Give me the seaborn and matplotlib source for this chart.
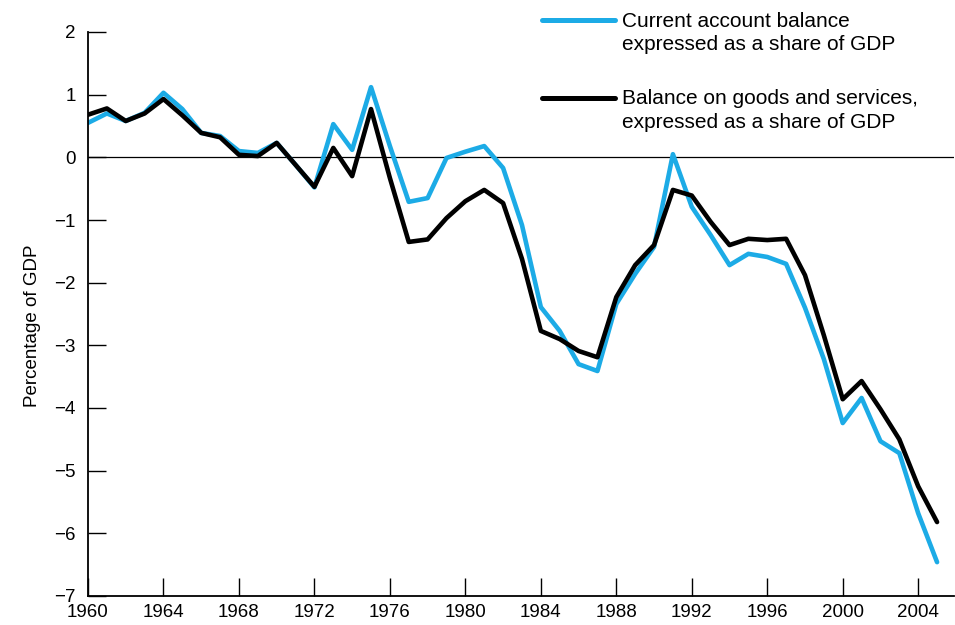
import numpy as np
import pandas as pd
import matplotlib
matplotlib.use("Agg")
import matplotlib.pyplot as plt
import seaborn as sns

# data (percent of GDP)
years = list(range(1960, 2006))
current_account = [0.55, 0.70, 0.58, 0.71, 1.03, 0.77, 0.39, 0.34, 0.10, 0.07,
                   0.23, -0.12, -0.48, 0.53, 0.12, 1.12, 0.18, -0.71, -0.65, -0.01,
                   0.09, 0.18, -0.17, -1.08, -2.39, -2.77, -3.30, -3.41, -2.34, -1.86,
                   -1.43, 0.05, -0.79, -1.24, -1.72, -1.54, -1.59, -1.70, -2.40, -3.22,
                   -4.24, -3.84, -4.53, -4.72, -5.68, -6.46]
goods_services = [0.68, 0.78, 0.58, 0.70, 0.93, 0.67, 0.39, 0.32, 0.04, 0.02,
                  0.23, -0.12, -0.47, 0.15, -0.30, 0.77, -0.33, -1.35, -1.31, -0.97,
                  -0.70, -0.52, -0.73, -1.62, -2.77, -2.90, -3.09, -3.19, -2.23, -1.72,
                  -1.40, -0.52, -0.61, -1.03, -1.40, -1.30, -1.32, -1.30, -1.88, -2.84,
                  -3.86, -3.57, -4.02, -4.50, -5.25, -5.82]
labels = ["Current account balance\nexpressed as a share of GDP",
          "Balance on goods and services,\nexpressed as a share of GDP"]
colors = ["#1CABE6", "#000000"]
yticks = list(range(-7, 3))
xticks = list(range(1960, 2005, 4))

df = pd.DataFrame({"year": years * 2,
                   "value": current_account + goods_services,
                   "series": [labels[0]] * len(years) + [labels[1]] * len(years)})

sns.set_style("ticks")
plt.rcParams["font.family"] = ["Liberation Sans", "DejaVu Sans"]
plt.rcParams["text.color"] = "black"
plt.rcParams["axes.labelcolor"] = "black"
plt.rcParams["xtick.color"] = "black"
plt.rcParams["ytick.color"] = "black"
plt.rcParams["axes.edgecolor"] = "black"

fig = plt.figure(figsize=(9.55, 6.25), dpi=100)
ax = fig.add_axes([88 / 955, 1 - 596 / 625, 1 - 88 / 955 - 0.001, (596 - 32) / 625])

sns.lineplot(data=df, x="year", y="value", hue="series", palette=colors,
             linewidth=3.3, ax=ax, legend=True)
ax.axhline(0, color="black", linewidth=0.9, zorder=1)

ax.set_xlim(1960, 2005.9)
ax.set_ylim(-7, 2)
ax.set_xticks(xticks)
ax.set_yticks(yticks)
ax.set_yticklabels([str(v).replace("-", "\u2212") for v in yticks])
ax.tick_params(direction="in", length=13, width=1, labelsize=13.5, pad=6)
ax.tick_params(axis="y", pad=9)
ax.set_xlabel("")
ax.set_ylabel("Percentage of GDP", fontsize=13.5)
ax.yaxis.set_label_coords(-0.054, 0.48)
sns.despine(ax=ax)
for s in ["left", "bottom"]:
    ax.spines[s].set_linewidth(1.3)

leg = ax.legend(loc="upper left", bbox_to_anchor=(523 / 955, 1 + 7 / 625),
                bbox_transform=fig.transFigure, frameon=False, fontsize=15,
                handlelength=3.5, handletextpad=0.35, labelspacing=1.68)
for t in leg.get_texts():
    t.set_linespacing(1.3)
# put the legend key level with the first text line
for ln in leg.get_lines():
    ln.set_linewidth(3.6)
    ln.set_ydata(np.asarray(ln.get_ydata()) + 9.5)

fig.savefig("out.png", dpi=100)
